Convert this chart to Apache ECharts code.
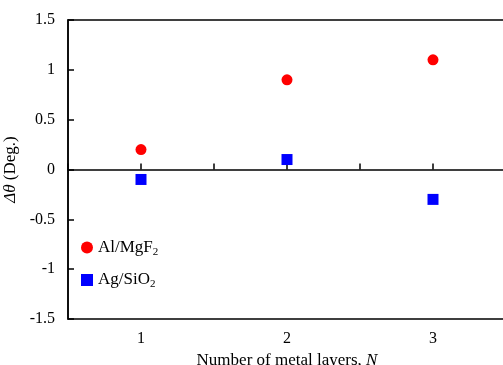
<!DOCTYPE html>
<html>
<head>
<meta charset="utf-8">
<script src="https://cdn.jsdelivr.net/npm/echarts@6/dist/echarts.min.js"></script>
<style>
  html, body { margin: 0; padding: 0; background: #fff; }
  #chart { width: 503px; height: 365px; }
</style>
</head>
<body>
<div id="chart"></div>
<script>
  // number of metal layers N
  var layers = [1, 2, 3];
  // delta theta (deg.)
  var alMgF2 = [0.2, 0.9, 1.1];
  var agSiO2 = [-0.1, 0.1, -0.3];

  var font = "'Liberation Serif', 'DejaVu Serif', serif";

  function pairs(vals) {
    return layers.map(function (n, i) { return [n, vals[i]]; });
  }

  var chart = echarts.init(document.getElementById('chart'));
  chart.setOption({
    animation: false,
    grid: {
      left: 68, top: 20, width: 438, height: 299,
      show: true, borderColor: '#000', borderWidth: 1.5,
      outerBoundsMode: 'none',
      containLabel: false
    },
    legend: {
      orient: 'vertical',
      left: 76, top: 234,
      itemGap: 14,
      itemWidth: 12, itemHeight: 12,
      textStyle: {
        fontFamily: font, fontSize: 17, color: '#000',
        rich: { sub: { fontFamily: font, fontSize: 11, verticalAlign: 'bottom', padding: [9, 0, 0, 0], color: '#000' } }
      },
      formatter: function (name) {
        return name.replace(/(\d)$/, '{sub|$1}');
      },
      data: ['Al/MgF2', 'Ag/SiO2']
    },
    xAxis: [{
      type: 'value', min: 0.5, max: 3.5, interval: 0.5,
      position: 'bottom',
      axisLine: { show: true, onZero: true, lineStyle: { color: '#000', width: 1.5 } },
      axisTick: { show: true, inside: true, length: 6, lineStyle: { color: '#000', width: 1.5 } },
      axisLabel: { show: false },
      splitLine: { show: false }
    }, {
      type: 'value', min: 0.5, max: 3.5, interval: 0.5,
      position: 'bottom',
      name: 'Number of metal layers, {it|N}',
      nameLocation: 'middle',
      nameGap: 23,
      nameTextStyle: {
        fontFamily: font, fontSize: 17, color: '#000',
        rich: { it: { fontFamily: font, fontSize: 17, fontStyle: 'italic', color: '#000' } }
      },
      axisLine: { show: false, onZero: false },
      axisTick: { show: false },
      axisLabel: {
        margin: 12, fontFamily: font, fontSize: 16, color: '#000',
        formatter: function (v) { return layers.indexOf(v) >= 0 ? String(v) : ''; }
      },
      splitLine: { show: false }
    }],
    yAxis: {
      type: 'value', min: -1.5, max: 1.5, interval: 0.5,
      name: '{it|Δθ} (Deg.)',
      nameLocation: 'middle',
      nameGap: 39,
      nameTextStyle: {
        fontFamily: font, fontSize: 17, color: '#000',
        rich: { it: { fontFamily: font, fontSize: 17, fontStyle: 'italic', color: '#000' } }
      },
      axisLine: { show: true, onZero: false, lineStyle: { color: '#000', width: 1.5 } },
      axisTick: { show: true, inside: true, length: 6, lineStyle: { color: '#000', width: 1.5 } },
      axisLabel: { margin: 13, fontFamily: font, fontSize: 16, color: '#000' },
      splitLine: { show: false }
    },
    series: [{
      name: 'Al/MgF2',
      type: 'scatter',
      symbol: 'circle',
      symbolSize: 11,
      itemStyle: { color: '#ff0000', opacity: 1 },
      data: pairs(alMgF2)
    }, {
      name: 'Ag/SiO2',
      type: 'scatter',
      symbol: 'rect',
      symbolSize: 11,
      itemStyle: { color: '#0000ff', opacity: 1 },
      data: pairs(agSiO2)
    }]
  });
</script>
</body>
</html>
